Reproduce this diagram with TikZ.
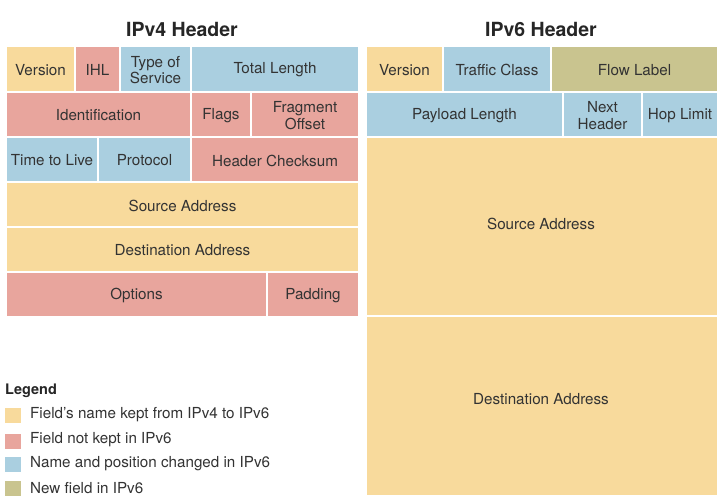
\documentclass[tikz,border=0pt]{standalone}
\usepackage{fontspec}
\setmainfont{TeX Gyre Heros}
\definecolor{fyel}{HTML}{F8DA9C}
\definecolor{fpink}{HTML}{E8A59D}
\definecolor{fblue}{HTML}{AACFE0}
\definecolor{folive}{HTML}{C9C48F}
\definecolor{ftext}{HTML}{333333}
\newcommand\fieldbox[7]{%
  \path (#2,#3) coordinate (#1-nw) (#4,#5) coordinate (#1-se);
  \fill[#6] (#1-nw) rectangle (#1-se);
  \node[fld] (#1) at ({((#2)+(#4))/2},{((#3)+(#5))/2}) {#7};}
\begin{document}
\begin{tikzpicture}[x=1pt,y=-1pt,
  fld/.style={draw=none, inner sep=0pt, align=center, text=ftext, yshift=-1pt,
    font=\fontsize{15.2}{16.8}\selectfont},
  ttl/.style={font=\fontsize{19.5}{22}\selectfont\bfseries, text=black!85},
  leg/.style={anchor=west, inner sep=0pt, text=ftext, font=\fontsize{15.2}{17}\selectfont},
  sw/.style={draw=none, inner sep=0pt, minimum width=16pt, minimum height=15pt}]
\useasboundingbox (0,0) rectangle (727,500);
\fill[white] (0,0) rectangle (727,500);
% titles
\node[ttl] (t4) at (182,29) {IPv4 Header};
\node[ttl] (t6) at (541,29) {IPv6 Header};
% IPv4
\fieldbox{v4ver}{7}{47}{74}{91}{fyel}{Version}
\fieldbox{v4ihl}{76}{47}{119}{91}{fpink}{IHL}
\fieldbox{v4tos}{121}{47}{190}{91}{fblue}{Type of\\Service}
\fieldbox{v4tl}{192}{47}{358}{91}{fblue}{Total Length}
\fieldbox{v4id}{7}{93}{190}{136}{fpink}{Identification}
\fieldbox{v4fl}{192}{93}{250}{136}{fpink}{Flags}
\fieldbox{v4fo}{252}{93}{358}{136}{fpink}{Fragment\\Offset}
\fieldbox{v4ttl}{7}{138}{97}{181}{fblue}{Time to Live}
\fieldbox{v4pr}{99}{138}{190}{181}{fblue}{Protocol}
\fieldbox{v4hc}{192}{138}{358}{181}{fpink}{Header Checksum}
\fieldbox{v4src}{7}{183}{358}{226}{fyel}{Source Address}
\fieldbox{v4dst}{7}{228}{358}{271}{fyel}{Destination Address}
\fieldbox{v4opt}{7}{273}{266}{316}{fpink}{Options}
\fieldbox{v4pad}{268}{273}{358}{316}{fpink}{Padding}
% IPv6
\fieldbox{v6ver}{367}{47}{442}{91}{fyel}{Version}
\fieldbox{v6tc}{444}{47}{550}{91}{fblue}{Traffic Class}
\fieldbox{v6fl}{552}{47}{717}{91}{folive}{Flow Label}
\fieldbox{v6pl}{367}{93}{562}{136}{fblue}{Payload Length}
\fieldbox{v6nh}{564}{93}{641}{136}{fblue}{Next\\Header}
\fieldbox{v6hl}{643}{93}{717}{136}{fblue}{Hop Limit}
\fill[fyel] (367,138) rectangle (717,315);
\node[fld] (v6src) at (541,223) {Source Address};
\fill[fyel] (367,317) rectangle (717,495);
\node[fld] (v6dst) at (541,398) {Destination Address};
% legend
\node[anchor=west, inner sep=0pt, font=\fontsize{14.5}{16}\selectfont\bfseries, text=black!85] (lgt) at (5,391) {Legend};
\node[sw, fill=fyel] (s1) at (13,415) {};
\node[sw, fill=fpink] (s2) at (13,441) {};
\node[sw, fill=fblue] (s3) at (13,464) {};
\node[sw, fill=folive] (s4) at (13,488) {};
\node[leg] (l1) at (30,415) {Field’s name kept from IPv4 to IPv6};
\node[leg] (l2) at (30,440) {Field not kept in IPv6};
\node[leg] (l3) at (30,464) {Name and position changed in IPv6};
\node[leg] (l4) at (30,488) {New field in IPv6};
\end{tikzpicture}
\end{document}
